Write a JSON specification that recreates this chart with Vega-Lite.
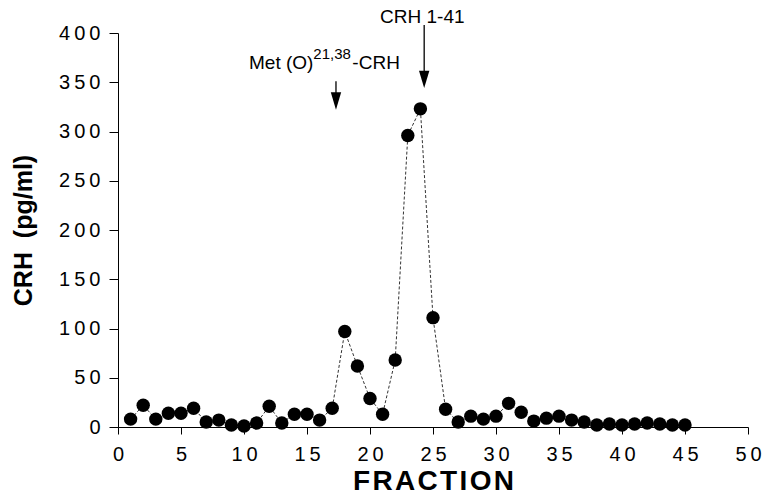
{
  "$schema": "https://vega.github.io/schema/vega-lite/v6.json",
  "width": 630,
  "height": 394,
  "autosize": {"type": "none"},
  "padding": {"left": 118, "top": 33, "right": 33, "bottom": 77},
  "background": "white",
  "config": {
    "view": {"stroke": null},
    "font": "Liberation Sans",
    "axis": {"domainColor": "black", "tickColor": "black", "labelColor": "black", "titleColor": "black", "grid": false, "labelFont": "Liberation Sans", "titleFont": "Liberation Sans"}
  },
  "datasets": {
    "crh": [
      {"fraction": 1, "crh": 8}, {"fraction": 2, "crh": 22}, {"fraction": 3, "crh": 8},
      {"fraction": 4, "crh": 14}, {"fraction": 5, "crh": 14}, {"fraction": 6, "crh": 19},
      {"fraction": 7, "crh": 5}, {"fraction": 8, "crh": 7}, {"fraction": 9, "crh": 2},
      {"fraction": 10, "crh": 1}, {"fraction": 11, "crh": 4}, {"fraction": 12, "crh": 21},
      {"fraction": 13, "crh": 4}, {"fraction": 14, "crh": 13}, {"fraction": 15, "crh": 13},
      {"fraction": 16, "crh": 7}, {"fraction": 17, "crh": 19}, {"fraction": 18, "crh": 97},
      {"fraction": 19, "crh": 62}, {"fraction": 20, "crh": 29}, {"fraction": 21, "crh": 13},
      {"fraction": 22, "crh": 68}, {"fraction": 23, "crh": 296}, {"fraction": 24, "crh": 323},
      {"fraction": 25, "crh": 111}, {"fraction": 26, "crh": 18}, {"fraction": 27, "crh": 5},
      {"fraction": 28, "crh": 11}, {"fraction": 29, "crh": 8}, {"fraction": 30, "crh": 11},
      {"fraction": 31, "crh": 24}, {"fraction": 32, "crh": 15}, {"fraction": 33, "crh": 6},
      {"fraction": 34, "crh": 9}, {"fraction": 35, "crh": 11}, {"fraction": 36, "crh": 7},
      {"fraction": 37, "crh": 5}, {"fraction": 38, "crh": 2}, {"fraction": 39, "crh": 3},
      {"fraction": 40, "crh": 2}, {"fraction": 41, "crh": 3}, {"fraction": 42, "crh": 4},
      {"fraction": 43, "crh": 3}, {"fraction": 44, "crh": 2}, {"fraction": 45, "crh": 2}
    ],
    "arrows": [
      {"x": 24.3, "y1": 408, "y2": 350, "head": 353},
      {"x": 17.3, "y1": 351, "y2": 330, "head": 331}
    ],
    "labels": [
      {"x": 20.8, "y": 416, "text": "CRH 1-41", "kind": "main"},
      {"x": 10.4, "y": 370, "text": "Met (O)", "kind": "main"},
      {"x": 18.6, "y": 370, "text": "-CRH", "kind": "main"},
      {"x": 15.5, "y": 379, "text": "21,38", "kind": "sup"}
    ]
  },
  "layer": [
    {
      "data": {"name": "crh"},
      "mark": {"type": "line", "color": "#333333", "strokeWidth": 1, "strokeDash": [3, 2]},
      "encoding": {
        "x": {
          "field": "fraction", "type": "quantitative",
          "scale": {"domain": [0, 50], "nice": false},
          "axis": {
            "title": "F\u200aR\u200aA\u200aC\u200aT\u200aI\u200aO\u200aN", "titleFontSize": 28, "titleFontWeight": "bold", "titlePadding": 3,
            "values": [0, 2.5, 5, 7.5, 10, 12.5, 15, 17.5, 20, 22.5, 25, 27.5, 30, 32.5, 35, 37.5, 40, 42.5, 45, 47.5, 50],
            "labelExpr": "datum.value % 5 == 0 ? replace(datum.label, regexp('(\\\\d)(?=\\\\d)', 'g'), '$1\u2009') : ''",
            "labelFontSize": 20, "labelPadding": 10, "tickSize": 7, "labelFlush": false, "labelOverlap": false
          }
        },
        "y": {
          "field": "crh", "type": "quantitative",
          "scale": {"domain": [0, 400], "nice": false},
          "axis": {
            "title": "CRH\u00a0\u00a0(pg/ml)", "titleFontSize": 25, "titleFontWeight": "bold", "titlePadding": 22,
            "values": [0, 50, 100, 150, 200, 250, 300, 350, 400],
            "labelExpr": "replace(datum.label, regexp('(\\\\d)(?=\\\\d)', 'g'), '$1\u2009')",
            "labelFontSize": 20, "labelPadding": 9, "tickSize": 9
          }
        }
      }
    },
    {
      "data": {"name": "crh"},
      "mark": {"type": "point", "filled": true, "color": "black", "opacity": 1, "size": 180},
      "encoding": {
        "x": {"field": "fraction", "type": "quantitative"},
        "y": {"field": "crh", "type": "quantitative"}
      }
    },
    {
      "data": {"name": "arrows"},
      "mark": {"type": "rule", "color": "black", "strokeWidth": 1.3, "clip": false},
      "encoding": {
        "x": {"field": "x", "type": "quantitative"},
        "y": {"field": "y1", "type": "quantitative"},
        "y2": {"field": "y2"}
      }
    },
    {
      "data": {"name": "arrows"},
      "mark": {"type": "point", "shape": "M-0.6,-1L0.6,-1L0,1Z", "filled": true, "color": "black", "opacity": 1, "size": 300, "clip": false},
      "encoding": {
        "x": {"field": "x", "type": "quantitative"},
        "y": {"field": "head", "type": "quantitative"}
      }
    },
    {
      "data": {"name": "labels"},
      "transform": [{"filter": "datum.kind == 'main'"}],
      "mark": {"type": "text", "align": "left", "baseline": "middle", "fontSize": 19, "color": "black"},
      "encoding": {
        "x": {"field": "x", "type": "quantitative"},
        "y": {"field": "y", "type": "quantitative"},
        "text": {"field": "text"}
      }
    },
    {
      "data": {"name": "labels"},
      "transform": [{"filter": "datum.kind == 'sup'"}],
      "mark": {"type": "text", "align": "left", "baseline": "middle", "fontSize": 15, "color": "black"},
      "encoding": {
        "x": {"field": "x", "type": "quantitative"},
        "y": {"field": "y", "type": "quantitative"},
        "text": {"field": "text"}
      }
    }
  ]
}
